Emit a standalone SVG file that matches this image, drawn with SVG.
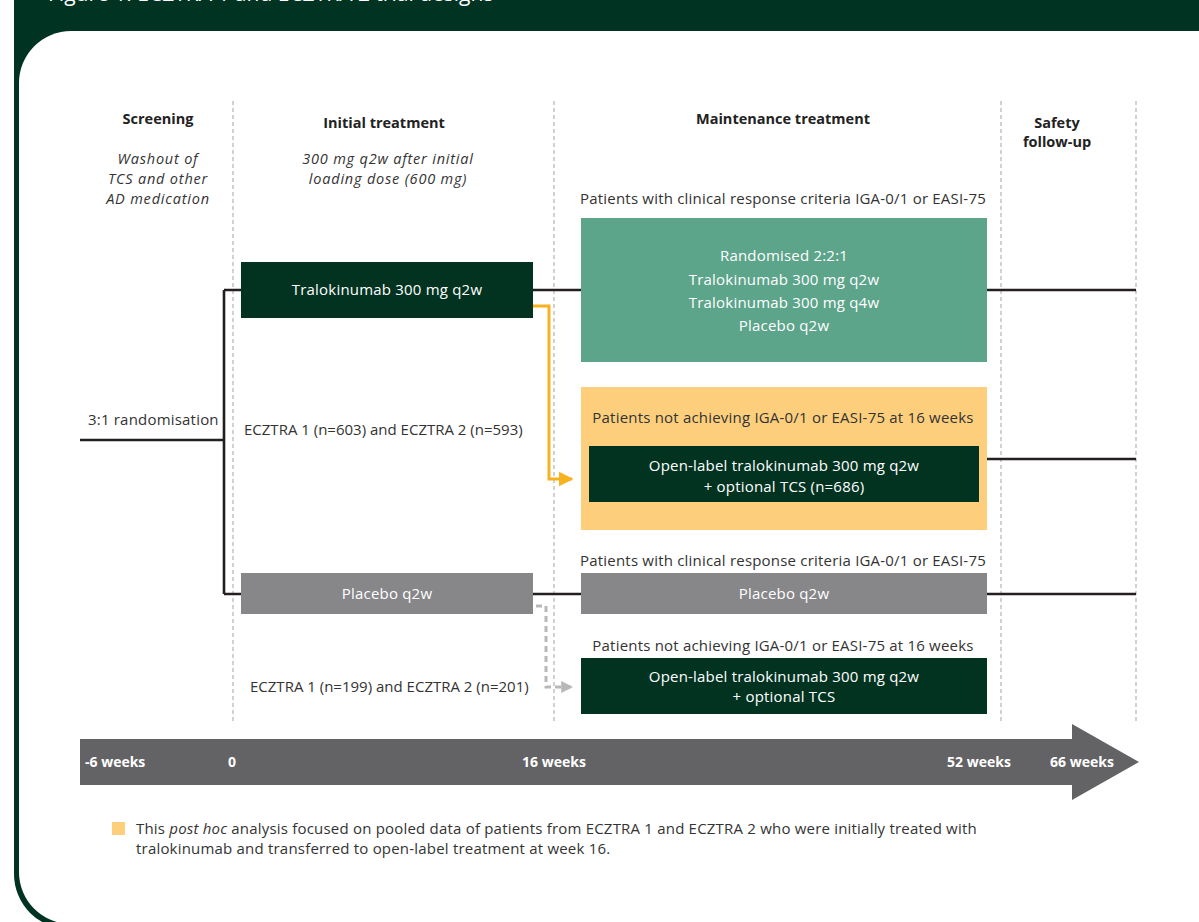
<svg xmlns="http://www.w3.org/2000/svg" width="1199" height="922" viewBox="0 0 1199 922">
<defs>
<style>
.t{font-family:"Open Sans","Liberation Sans",sans-serif;font-size:15px;letter-spacing:0.2px;fill:#333;}
.b{font-weight:bold;fill:#222;font-size:14.5px;letter-spacing:0;}
.i{font-style:italic;font-size:14.5px;letter-spacing:0.8px;}
.n{letter-spacing:0;}
.w{fill:#fff;}
.c{text-anchor:middle;}
.ax{font-family:"Open Sans","Liberation Sans",sans-serif;font-size:14px;font-weight:bold;fill:#fff;}
.col{stroke:#b3b3b3;stroke-width:1.2;stroke-dasharray:4 3;fill:none;}
.ln{stroke:#231f20;stroke-width:2.6;fill:none;}
</style>
<marker id="ao" viewBox="0 0 10 10" refX="9" refY="5" markerWidth="5" markerHeight="5" orient="auto" markerUnits="strokeWidth"><path d="M0,0 L10,5 L0,10 z" fill="#f6b21f"/></marker>
<marker id="ag" viewBox="0 0 10 10" refX="9" refY="5" markerWidth="4" markerHeight="4" orient="auto" markerUnits="strokeWidth"><path d="M0,0 L10,5 L0,10 z" fill="#b8b8b8"/></marker>
</defs>
<rect width="1199" height="922" fill="#fff"/>
<g id="frame">
<rect x="14" y="-60" width="1300" height="989" rx="55" fill="#013322"/>
<rect x="19" y="31" width="1300" height="893" rx="52" fill="#fff"/>
<text x="48" y="1" font-family="'Open Sans','Liberation Sans',sans-serif" font-size="21" fill="#fff">Figure 1: ECZTRA 1 and ECZTRA 2 trial designs</text>
</g>
<g id="columns">
<line class="col" x1="233" y1="101" x2="233" y2="722"/>
<line class="col" x1="554" y1="101" x2="554" y2="722"/>
<line class="col" x1="1001" y1="101" x2="1001" y2="722"/>
<line class="col" x1="1136" y1="101" x2="1136" y2="722"/>
</g>
<g id="headers">
<text class="t b c" x="158" y="124">Screening</text>
<text class="t i c" x="158" y="164">Washout of</text>
<text class="t i c" x="158" y="184">TCS and other</text>
<text class="t i c" x="158" y="204">AD medication</text>
<text class="t b c" x="384" y="128">Initial treatment</text>
<text class="t i c" x="388" y="164">300 mg q2w after initial</text>
<text class="t i c" x="388" y="184">loading dose (600 mg)</text>
<text class="t b c" x="783" y="124">Maintenance treatment</text>
<text class="t b c" x="1057" y="128">Safety</text>
<text class="t b c" x="1057" y="147">follow-up</text>
</g>
<g id="connectors">
<path class="ln" d="M80,440 H224 M224,290 V594 M224,290 H241 M533,290 H581 M987,290 H1136 M224,594 H241 M533,594 H581 M987,594 H1136 M987,459 H1136"/>
<path d="M533,306 H549 V479 H572" fill="none" stroke="#f6b21f" stroke-width="3" marker-end="url(#ao)"/>
<path d="M536,606 H546 V687 H572" fill="none" stroke="#b8b8b8" stroke-width="3" stroke-dasharray="6 4" marker-end="url(#ag)"/>
</g>
<g id="label-randomisation">
<text class="t" x="88" y="425">3:1 randomisation</text>
<text class="t n" x="244" y="435">ECZTRA 1 (n=603) and ECZTRA 2 (n=593)</text>
<text class="t n" x="250" y="692">ECZTRA 1 (n=199) and ECZTRA 2 (n=201)</text>
</g>
<g id="node-tralo">
<rect x="241" y="262" width="292" height="56" fill="#023321"/>
<text class="t w c" x="387" y="295">Tralokinumab 300 mg q2w</text>
</g>
<g id="node-responders">
<text class="t c" x="783" y="204">Patients with clinical response criteria IGA-0/1 or EASI-75</text>
<rect x="581" y="218" width="406" height="144" fill="#5ca48a"/>
<text class="t w c" x="784" y="261">Randomised 2:2:1</text>
<text class="t w c" x="784" y="285">Tralokinumab 300 mg q2w</text>
<text class="t w c" x="784" y="308">Tralokinumab 300 mg q4w</text>
<text class="t w c" x="784" y="331">Placebo q2w</text>
</g>
<g id="node-nonresponders">
<rect x="581" y="387" width="406" height="143" fill="#fdcf7d"/>
<text class="t c" x="783" y="423">Patients not achieving IGA-0/1 or EASI-75 at 16 weeks</text>
<rect x="589" y="446" width="390" height="56" fill="#023321"/>
<text class="t w c" x="784" y="471">Open-label tralokinumab 300 mg q2w</text>
<text class="t w c" x="784" y="492">+ optional TCS  (n=686)</text>
</g>
<g id="node-placebo">
<rect x="241" y="573" width="292" height="41" fill="#87878a"/>
<text class="t w c" x="387" y="599">Placebo q2w</text>
</g>
<g id="node-placebo-responders">
<text class="t c" x="783" y="566">Patients with clinical response criteria IGA-0/1 or EASI-75</text>
<rect x="581" y="573" width="406" height="41" fill="#87878a"/>
<text class="t w c" x="784" y="599">Placebo q2w</text>
</g>
<g id="node-placebo-nonresponders">
<text class="t c" x="783" y="651">Patients not achieving IGA-0/1 or EASI-75 at 16 weeks</text>
<rect x="581" y="658" width="406" height="56" fill="#023321"/>
<text class="t w c" x="784" y="682">Open-label tralokinumab 300 mg q2w</text>
<text class="t w c" x="784" y="702">+ optional TCS</text>
</g>
<g id="timeline">
<path d="M80,739 H1072 V724 L1139,762 L1072,800 V785 H80 Z" fill="#636264"/>
<text class="ax" x="85" y="767">-6 weeks</text>
<text class="ax c" x="232" y="767">0</text>
<text class="ax c" x="554" y="767">16 weeks</text>
<text class="ax c" x="979" y="767">52 weeks</text>
<text class="ax c" x="1082" y="767">66 weeks</text>
</g>
<g id="footnote">
<rect x="112" y="822" width="13" height="13" fill="#fdcf7d"/>
<text class="t" x="136" y="834">This <tspan font-style="italic">post hoc</tspan> analysis focused on pooled data of patients from ECZTRA 1 and ECZTRA 2 who were initially treated with</text>
<text class="t" x="136" y="854">tralokinumab and transferred to open-label treatment at week 16.</text>
</g>
</svg>
